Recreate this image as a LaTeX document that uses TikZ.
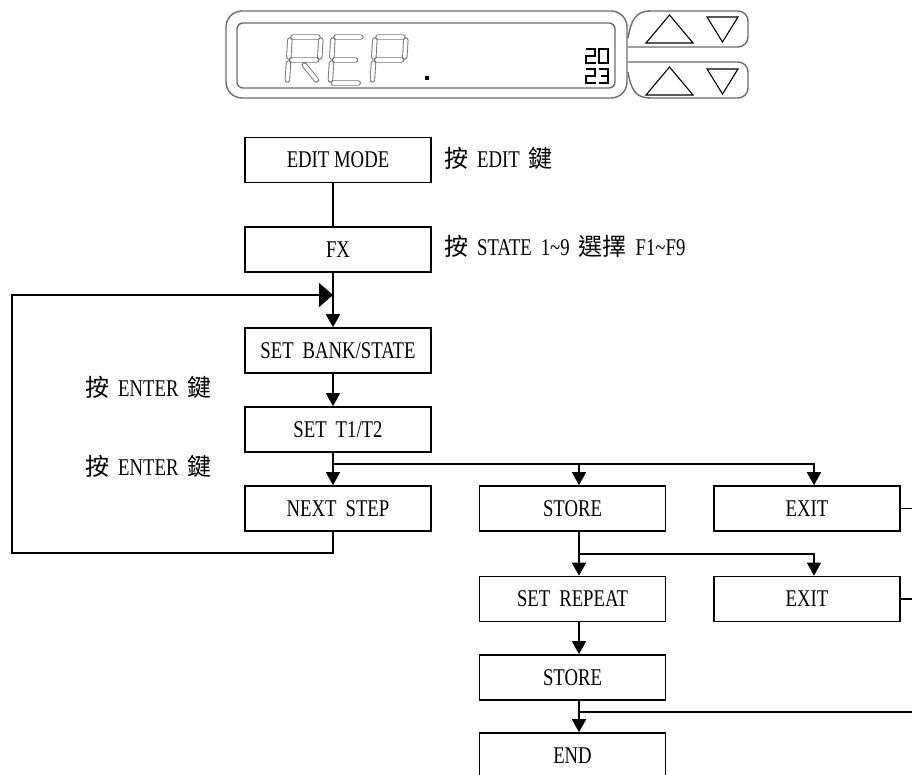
\documentclass[tikz,border=0pt]{standalone}
\usepackage{fontspec}
\setmainfont{Liberation Serif}[FakeStretch=0.78]
\newfontfamily\cjk{Noto Sans CJK TC}
\usetikzlibrary{arrows.meta}
\newcommand\gap{\hspace{9pt}}

\begin{document}
\begin{tikzpicture}[x=1pt,y=-1pt,font=\fontsize{24}{26}\selectfont,
  box/.style={draw,line width=1.6pt,minimum width=186pt,minimum height=45pt,inner sep=0pt},
  link/.style={line width=1.6pt},
  arr/.style={link,-{Triangle[width=14pt,length=13pt]}},
  rim/.style={gray!85!black,line width=1.4pt},
  seg/.style={gray!90!black,line width=0.9pt,double=white,double distance=3.6pt,line cap=round},
  dig/.style={black,line width=2.6pt}]
\useasboundingbox (0,0) rectangle (912,775);

% display panel
\draw[rim,rounded corners=16pt] (226,11) rectangle (627,98);
\draw[rim,rounded corners=6pt] (237,23) rectangle (615,88);
\draw[rim] (628,38) .. controls (631,20) and (636,11) .. (650,11);
\draw[rim,rounded corners=10pt] (649,11) -- (748,11) -- (748,47) -- (628,47);
\draw[rim,rounded corners=10pt] (628,62) -- (748,62) -- (748,98) -- (649,98);
\draw[rim] (650,98) .. controls (636,98) and (631,90) .. (628,72);
\foreach \y in {0,52}{
  \draw[line width=1.1pt,line join=miter] (646,43+\y) -- (669.5,15+\y) -- (693,43+\y) -- cycle;
  \draw[line width=1.1pt,line join=miter] (707,17+\y) -- (738,17+\y) -- (722.5,42+\y) -- cycle;}
\begin{scope}[shift={(290,37)},xslant=0.06]
  \draw[seg] (3,0)--(28,0) (0,3)--(0,20) (31,3)--(31,20) (3,23)--(28,23) (0,26)--(0,43) (16,28)--(29,43);
\end{scope}
\begin{scope}[shift={(333,37)},xslant=0.06]
  \draw[seg] (3,0)--(28,0) (0,3)--(0,20) (3,23)--(24,23) (0,26)--(0,43) (3,46)--(28,46);
\end{scope}
\begin{scope}[shift={(375,37)},xslant=0.06]
  \draw[seg] (3,0)--(28,0) (0,3)--(0,20) (31,3)--(31,20) (3,23)--(28,23) (0,26)--(0,43);
\end{scope}
\fill (425,76) rectangle (429,80);
\begin{scope}[shift={(586,49)}]
  \draw[dig] (0,0)--(9,0)--(9,7)--(0,7)--(0,14)--(10,14);
  \draw[dig] (13,0) rectangle (22,14);
\end{scope}
\begin{scope}[shift={(586,69)}]
  \draw[dig] (0,0)--(9,0)--(9,7)--(0,7)--(0,14)--(10,14);
  \draw[dig] (13,0)--(22,0)--(22,14)--(13,14) (15,7)--(22,7);
\end{scope}

% flow
\node[box] (edit) at (338,160) {EDIT MODE};
\node[box] (fx) at (338,249.5) {FX};
\node[box] (bank) at (338,350.5) {SET\gap BANK/STATE};
\node[box] (t12) at (338,429.5) {SET\gap T1/T2};
\node[box] (next) at (338,508.5) {NEXT\gap STEP};
\node[box] (store) at (572.5,508.5) {STORE};
\node[box] (exita) at (807,508.5) {EXIT};
\node[box] (rep) at (572.5,599) {SET\gap REPEAT};
\node[box] (exitb) at (807,599) {EXIT};
\node[box] (store2) at (572.5,677.5) {STORE};
\node[box] (stop) at (572.5,755.5) {END};

\node[right,inner sep=0pt] (keyedit) at (444,158) {{\cjk 按}\gap EDIT\gap{\cjk 鍵}};
\node[right,inner sep=0pt] (keystate) at (444,246) {{\cjk 按}\gap STATE\gap 1\textasciitilde 9\gap{\cjk 選擇}\gap F1\textasciitilde F9};
\node[right,inner sep=0pt] (keyenter) at (85,387) {{\cjk 按}\gap ENTER\gap{\cjk 鍵}};
\node[right,inner sep=0pt] (keyenterb) at (85,466) {{\cjk 按}\gap ENTER\gap{\cjk 鍵}};

\coordinate (ca) at (333,0);
\coordinate (cb) at (579,0);
\coordinate (cc) at (814,0);
\coordinate (rim) at (912,0);
\coordinate (loop) at (333,295);
\coordinate (back) at (12,553);
\coordinate (ja) at (333,464);
\coordinate (jb) at (579,554);
\coordinate (jc) at (579,712);

\draw[link] (edit.south -| ca) -- (fx.north -| ca);
\draw[arr] (fx.south -| ca) -- (bank.north -| ca);
\draw[link,-{Triangle[width=24pt,length=14pt]}] (next.south -| ca) |- (back) |- (loop);
\draw[arr] (bank.south -| ca) -- (t12.north -| ca);
\draw[arr] (t12.south -| ca) -- (next.north -| ca);
\draw[arr] (ja) -| (exita.north -| cc);
\draw[arr] (ja -| cb) -- (store.north -| cb);
\draw[arr] (store.south -| cb) -- (rep.north -| cb);
\draw[arr] (jb) -| (exitb.north -| cc);
\draw[arr] (rep.south -| cb) -- (store2.north -| cb);
\draw[arr] (store2.south -| cb) -- (stop.north -| cb);
\draw[link] (jc) -- (jc -| rim);
\draw[link] (exita) -- (exita -| rim);
\draw[link] (exitb) -- (exitb -| rim);
\end{tikzpicture}
\end{document}
